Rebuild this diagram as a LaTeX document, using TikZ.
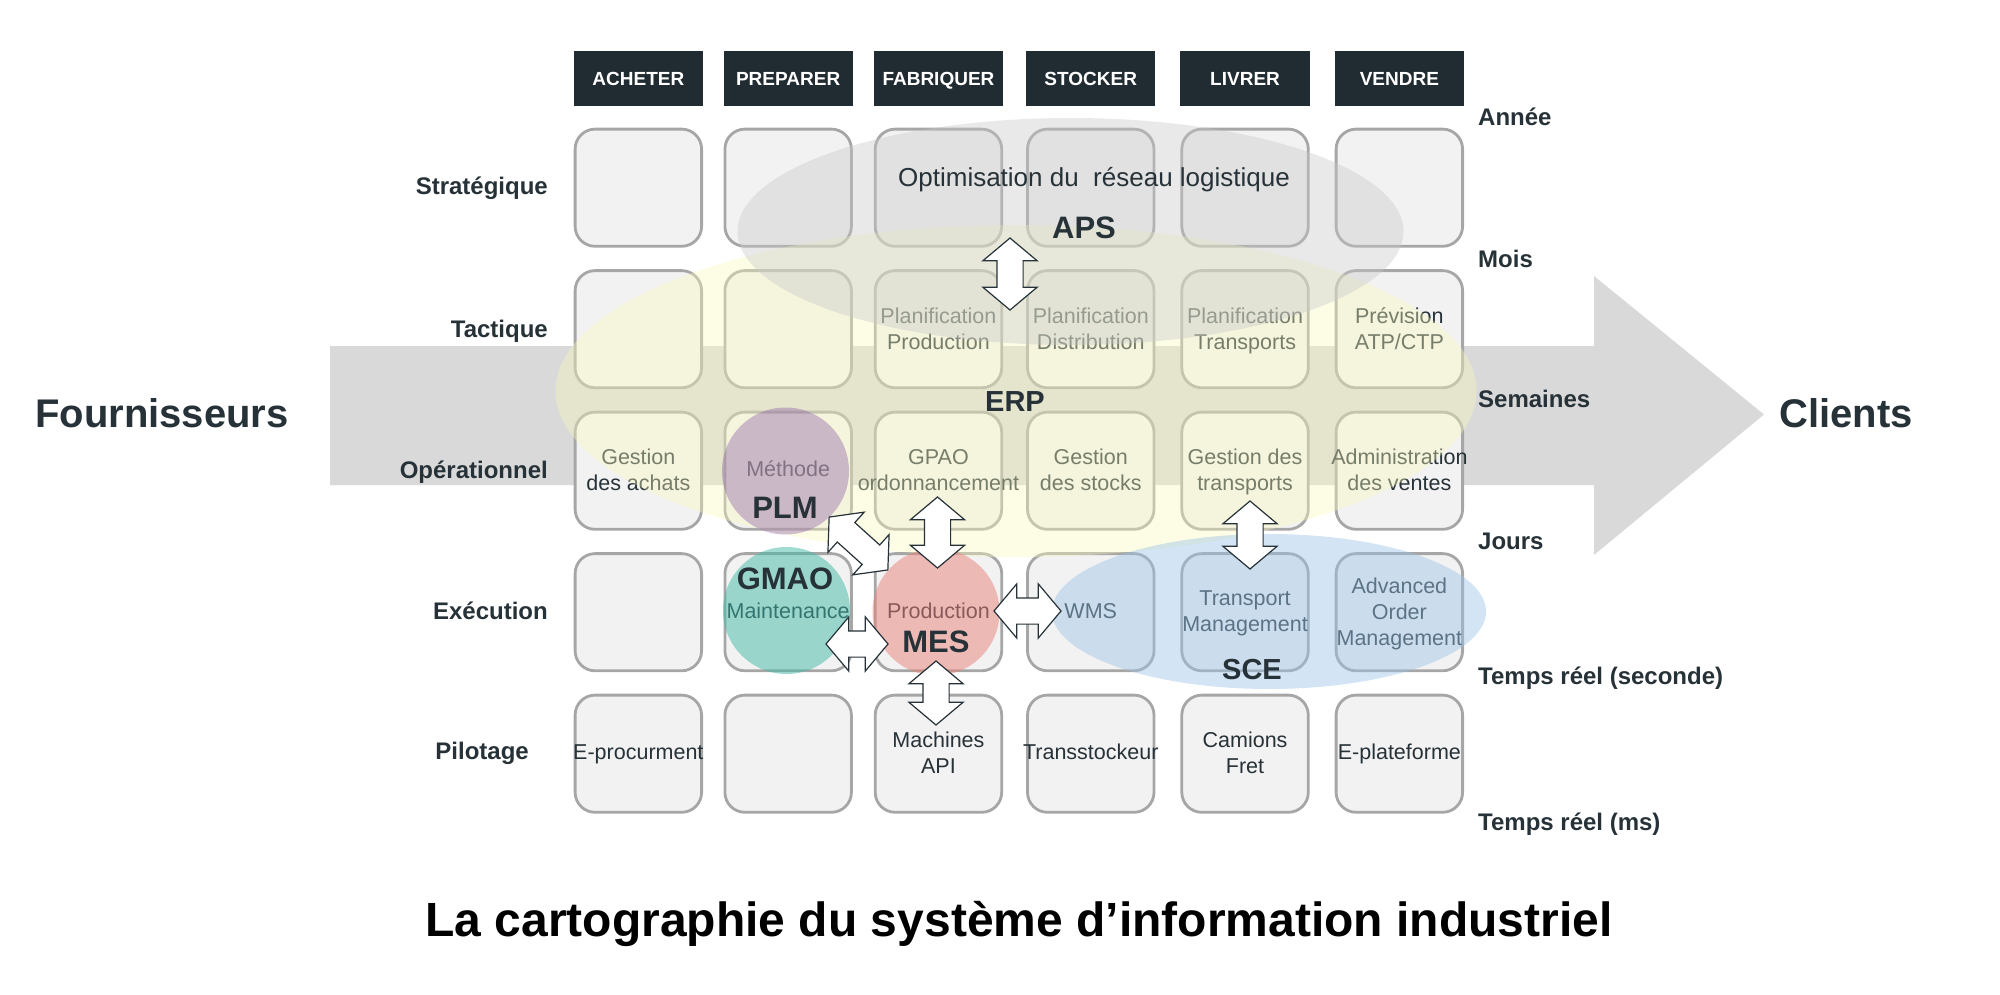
\documentclass[tikz,border=0pt]{standalone}
\usepackage{fontspec}
\setmainfont{Liberation Sans}
\usepackage{tikz}
\usetikzlibrary{matrix, shapes.geometric, shapes.arrows}
\definecolor{ink}{HTML}{263238}
\definecolor{headfill}{HTML}{212B32}
\definecolor{boxfill}{HTML}{F2F2F2}
\definecolor{boxline}{HTML}{A6A6A6}
\definecolor{flowgray}{HTML}{D9D9D9}
\definecolor{erpfill}{RGB}{250,250,190}
\definecolor{apsfill}{RGB}{200,200,200}
\definecolor{scefill}{HTML}{9DC3E6}
\definecolor{plmfill}{HTML}{9164A7}
\definecolor{gmaofill}{HTML}{42BAA6}
\definecolor{mesfill}{HTML}{EA827A}
\begin{document}
\begin{tikzpicture}[
	x = 1pt, y = -1pt,
	head/.style = {rectangle, draw=none, fill=headfill, text=white, rounded corners=0pt,
		line width=0pt, minimum width=129.3pt, minimum height=55pt,
		text height=14pt, text depth=0pt,
		font=\fontsize{19}{22}\selectfont\bfseries},
	net/.style = {
		matrix of nodes,
		inner sep=0pt,
		nodes={rectangle, rounded corners=20pt, draw=boxline, fill=boxfill, line width=2.8pt,
			minimum width=126.5pt, minimum height=117.2pt, inner sep=0pt, outer sep=0pt,
			anchor=center},
		nodes in empty cells,
		row sep = 21.5pt
	},
	celltext/.style = {text=ink, align=center, inner sep=0pt,
		execute at begin node=\strut, execute at end node=\strut,
		font=\fontsize{21.5}{26}\selectfont},
	sidelabel/.style = {text=ink, inner sep=0pt, text height=17pt, text depth=0pt,
		font=\fontsize{24}{28}\selectfont\bfseries},
	bigname/.style = {text=ink, inner sep=0pt, text height=29pt, text depth=0pt,
		font=\fontsize{40}{44}\selectfont\bfseries},
	acro/.style = {text=ink, inner sep=0pt, font=\fontsize{31}{34}\selectfont\bfseries},
	blob/.style = {ellipse, draw=none, inner sep=0pt},
	dblarrow/.style = {double arrow, draw=ink, fill=white, line width=1.2pt,
		inner xsep=0pt, inner ysep=12.5pt,
		minimum width=53pt, double arrow head extend=14pt, double arrow tip angle=100},
	]
	\useasboundingbox (0,0) rectangle (2000,995);
	% flow
	\fill[flowgray] (330,346) -- (1594,346) -- (1594,276) -- (1764,414.5)
		-- (1594,555) -- (1594,485) -- (330,485) -- cycle;
	\matrix[net, anchor=north west] (m) at (573.5,51)
	{
		|[head]| ACHETER &[20.5pt] |[head]| PREPARER &[21pt] |[head]| FABRIQUER &[23pt] |[head]| STOCKER &[25pt] |[head]| LIVRER &[25pt] |[head]| VENDRE \\
		& & & & & \\
		& & & & & \\
		& & & & & \\
		& & & & & \\
		& & & & & \\
	};
	% cell texts
	\foreach \c/\t in {
		m-3-3/{Planification\\Production}, m-3-4/{Planification\\Distribution},
		m-3-5/{Planification\\Transports}, m-3-6/{Prévision\\ATP/CTP},
		m-4-1/{Gestion\\des achats}, m-4-3/{GPAO\\ordonnancement},
		m-4-4/{Gestion\\des stocks}, m-4-5/{Gestion des\\transports},
		m-4-6/{Administration\\des ventes},
		m-5-5/{Transport\\Management}, m-5-6/{Advanced\\Order\\Management},
		m-6-3/{Machines\\API}, m-6-5/{Camions\\Fret}}
		\node[celltext, yshift=-3pt] (t-\c) at (\c) {\t};
	\foreach \c/\t in {
		m-4-2/{Méthode}, m-5-2/{Maintenance}, m-5-3/{Production}, m-5-4/{WMS},
		m-6-1/{E-procurment}, m-6-4/{Transstockeur}, m-6-6/{E-plateforme}}
		\node[celltext, yshift=-1pt] (t-\c) at (\c) {\t};
	% systems
	\node[blob, fill=erpfill, fill opacity=.38, minimum width=921pt, minimum height=332pt] (erp) at (1016,391) {};
	\node[blob, fill=apsfill, fill opacity=.4, minimum width=666pt, minimum height=227pt] (aps) at (1070.5,231.5) {};
	\node[blob, fill=scefill, fill opacity=.45, minimum width=434pt, minimum height=155pt] (sce) at (1269,611.5) {};
	\node[blob, fill=plmfill, fill opacity=.42, minimum width=127pt, minimum height=127pt] (plm) at (785.5,471) {};
	\node[blob, fill=gmaofill, fill opacity=.5, minimum width=127pt, minimum height=127pt] (gmao) at (786.5,610.5) {};
	\node[blob, fill=mesfill, fill opacity=.5, minimum width=127pt, minimum height=127pt] (mes) at (936,612) {};
	% arrows
	\node[dblarrow, rotate=90, minimum height=72pt] (aps-erp) at (1010,274) {};
	\node[dblarrow, rotate=90, minimum height=71pt] (gpao-mes) at (937.5,532.5) {};
	\node[dblarrow, rotate=90, minimum height=64pt] (mes-api) at (936,693) {};
	\node[dblarrow, rotate=90, minimum height=68pt] (gdt-tms) at (1250,535) {};
	\node[dblarrow, minimum height=67pt] (mes-wms) at (1027.5,611) {};
	\node[dblarrow, minimum height=62pt] (gmao-mes) at (857,644) {};
	\node[dblarrow, rotate=-42, minimum height=79pt] (plm-mes) at (858.5,543.5) {};
	% labels
	\node[sidelabel, anchor=east] (l-str) at (548,186) {Stratégique};
	\node[sidelabel, anchor=east] (l-tac) at (548,329) {Tactique};
	\node[sidelabel, anchor=east] (l-ope) at (548,469.5) {Opérationnel};
	\node[sidelabel, anchor=east] (l-exe) at (548,611) {Exécution};
	\node[sidelabel, anchor=east] (l-pil) at (529,751) {Pilotage};
	\node[sidelabel, anchor=west] (r-an) at (1478,117) {Année};
	\node[sidelabel, anchor=west] (r-mo) at (1478,259) {Mois};
	\node[sidelabel, anchor=west] (r-sem) at (1478,399) {Semaines};
	\node[sidelabel, anchor=west] (r-jo) at (1478,541) {Jours};
	\node[sidelabel, anchor=west] (r-sec) at (1478,676) {Temps réel (seconde)};
	\node[sidelabel, anchor=west] (r-ms) at (1478,821.5) {Temps réel (ms)};
	\node[acro] (l-aps) at (1084,228) {APS};
	\node[acro, font=\fontsize{29}{32}\selectfont\bfseries] (l-erp) at (1015,402) {ERP};
	\node[acro] (l-plm) at (785,508) {PLM};
	\node[acro] (l-gmao) at (785,579) {GMAO};
	\node[acro] (l-mes) at (936,642) {MES};
	\node[acro, font=\fontsize{29}{32}\selectfont\bfseries] (l-sce) at (1252,670) {SCE};
	\node[text=ink, inner sep=0pt, font=\fontsize{26}{30}\selectfont] (l-opt) at (1094,180) {Optimisation du\ \ réseau logistique};
	\node[bigname] (fou) at (162,413) {Fournisseurs};
	\node[bigname] (cli) at (1846,413) {Clients};
	\node[inner sep=0pt, font=\fontsize{48}{52}\selectfont\bfseries] (titre) at (1019,924) {La cartographie du système d'information industriel};
\end{tikzpicture}
\end{document}
